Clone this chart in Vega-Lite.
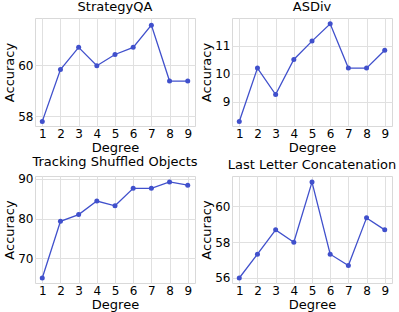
{
  "$schema": "https://vega.github.io/schema/vega-lite/v6.json",
  "padding": {"left": 3, "top": 0, "right": 0, "bottom": 0},
  "bounds": "flush",
  "config": {
    "font": "DejaVu Sans",
    "view": {"stroke": "#d9d9d9", "strokeWidth": 1},
    "axis": {"gridColor": "#e0e0e0", "domain": false, "ticks": false, "labelFontSize": 12, "titleFontSize": 13, "labelColor": "#000", "titleColor": "#000", "titleFontWeight": "normal", "labelPadding": 2, "titlePadding": 1},
    "axisX": {"titlePadding": 2},
    "title": {"fontSize": 13, "fontWeight": "normal", "color": "#000", "offset": 0}
  },
  "datasets": {
    "strategy": [
      {"d": 1, "a": 57.8}, {"d": 2, "a": 59.83}, {"d": 3, "a": 60.7}, {"d": 4, "a": 59.98}, {"d": 5, "a": 60.42},
      {"d": 6, "a": 60.7}, {"d": 7, "a": 61.57}, {"d": 8, "a": 59.38}, {"d": 9, "a": 59.38}
    ],
    "asdiv": [
      {"d": 1, "a": 8.28}, {"d": 2, "a": 10.2}, {"d": 3, "a": 9.25}, {"d": 4, "a": 10.51}, {"d": 5, "a": 11.17},
      {"d": 6, "a": 11.79}, {"d": 7, "a": 10.2}, {"d": 8, "a": 10.2}, {"d": 9, "a": 10.84}
    ],
    "tracking": [
      {"d": 1, "a": 65.06}, {"d": 2, "a": 79.3}, {"d": 3, "a": 81.0}, {"d": 4, "a": 84.4}, {"d": 5, "a": 83.2},
      {"d": 6, "a": 87.6}, {"d": 7, "a": 87.6}, {"d": 8, "a": 89.2}, {"d": 9, "a": 88.4}
    ],
    "lastletter": [
      {"d": 1, "a": 56.0}, {"d": 2, "a": 57.33}, {"d": 3, "a": 58.69}, {"d": 4, "a": 58.0}, {"d": 5, "a": 61.36},
      {"d": 6, "a": 57.33}, {"d": 7, "a": 56.7}, {"d": 8, "a": 59.36}, {"d": 9, "a": 58.69}
    ]
  },
  "columns": 2,
  "spacing": {"column": 37, "row": 50},
  "concat": [
    {
      "title": "StrategyQA",
      "width": 160, "height": 108,
      "data": {"name": "strategy"},
      "encoding": {
        "x": {"field": "d", "type": "quantitative", "title": "Degree", "scale": {"domain": [0.6, 9.4], "nice": false}, "axis": {"values": [1,2,3,4,5,6,7,8,9], "format": "d"}},
        "y": {"field": "a", "type": "quantitative", "title": "Accuracy", "scale": {"domain": [57.62, 61.85], "nice": false, "zero": false}, "axis": {"values": [58, 60]}}
      },
      "layer": [
        {"mark": {"type": "line", "color": "#4050cc", "strokeWidth": 1.3}},
        {"mark": {"type": "point", "filled": true, "opacity": 1, "color": "#4050cc", "size": 25}}
      ]
    },
    {
      "title": "ASDiv",
      "width": 160, "height": 108,
      "data": {"name": "asdiv"},
      "encoding": {
        "x": {"field": "d", "type": "quantitative", "title": "Degree", "scale": {"domain": [0.6, 9.4], "nice": false}, "axis": {"values": [1,2,3,4,5,6,7,8,9], "format": "d"}},
        "y": {"field": "a", "type": "quantitative", "title": "Accuracy", "scale": {"domain": [8.12, 12.0], "nice": false, "zero": false}, "axis": {"values": [9, 10, 11]}}
      },
      "layer": [
        {"mark": {"type": "line", "color": "#4050cc", "strokeWidth": 1.3}},
        {"mark": {"type": "point", "filled": true, "opacity": 1, "color": "#4050cc", "size": 25}}
      ]
    },
    {
      "title": "Tracking Shuffled Objects",
      "width": 160, "height": 107,
      "data": {"name": "tracking"},
      "encoding": {
        "x": {"field": "d", "type": "quantitative", "title": "Degree", "scale": {"domain": [0.6, 9.4], "nice": false}, "axis": {"values": [1,2,3,4,5,6,7,8,9], "format": "d"}},
        "y": {"field": "a", "type": "quantitative", "title": "Accuracy", "scale": {"domain": [63.8, 90.7], "nice": false, "zero": false}, "axis": {"values": [70, 80, 90]}}
      },
      "layer": [
        {"mark": {"type": "line", "color": "#4050cc", "strokeWidth": 1.3}},
        {"mark": {"type": "point", "filled": true, "opacity": 1, "color": "#4050cc", "size": 25}}
      ]
    },
    {
      "title": "Last Letter Concatenation",
      "width": 160, "height": 107,
      "data": {"name": "lastletter"},
      "encoding": {
        "x": {"field": "d", "type": "quantitative", "title": "Degree", "scale": {"domain": [0.6, 9.4], "nice": false}, "axis": {"values": [1,2,3,4,5,6,7,8,9], "format": "d"}},
        "y": {"field": "a", "type": "quantitative", "title": "Accuracy", "scale": {"domain": [55.72, 61.7], "nice": false, "zero": false}, "axis": {"values": [56, 58, 60]}}
      },
      "layer": [
        {"mark": {"type": "line", "color": "#4050cc", "strokeWidth": 1.3}},
        {"mark": {"type": "point", "filled": true, "opacity": 1, "color": "#4050cc", "size": 25}}
      ]
    }
  ]
}
